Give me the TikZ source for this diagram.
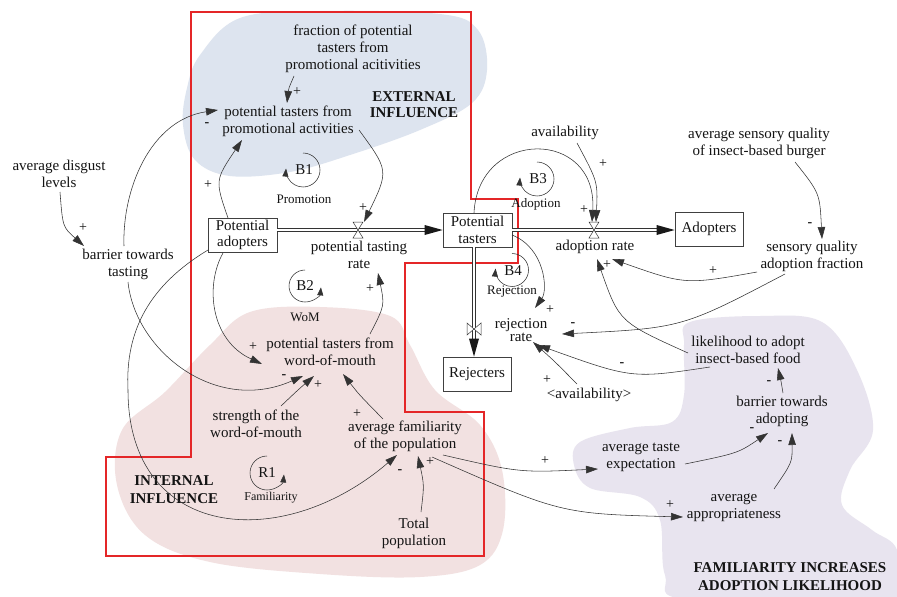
\documentclass[tikz,border=0pt]{standalone}
\usepackage{fontspec}
\setmainfont{Liberation Serif}
\usetikzlibrary{arrows.meta,calc}
\definecolor{blueblob}{RGB}{221,228,239}
\definecolor{pinkblob}{RGB}{242,225,225}
\definecolor{purpleblob}{RGB}{232,228,239}
\definecolor{redline}{RGB}{228,38,40}
\begin{document}
\begin{tikzpicture}[x=1pt,y=-1pt,
 txt/.style={align=center,inner sep=1pt,text=black!92,font=\fontsize{15}{17}\selectfont},
 stockbox/.style={draw=black!75,line width=0.7pt,align=center,inner sep=0pt,minimum width=69pt,minimum height=34pt,text=black!92,font=\fontsize{15}{16.5}\selectfont},
 bld/.style={align=center,inner sep=0pt,text=black!92,font=\bfseries\fontsize{15}{17}\selectfont},
 lnk/.style={draw=black!80,line width=0.55pt,-{Triangle[length=12pt,width=7.5pt]}},
 sgnpos/.style={inner sep=0pt,text=black!92,font=\fontsize{14}{14}\selectfont},
 sgnneg/.style={inner sep=0pt,text=black!92,font=\bfseries\fontsize{14}{14}\selectfont},
 loopl/.style={inner sep=0pt,text=black!92,font=\fontsize{13}{13}\selectfont},
 loopb/.style={inner sep=0pt,text=black!92,font=\fontsize{15}{15}\selectfont},
 loopa/.style={draw=black!80,line width=0.55pt,-{Triangle[length=8pt,width=6pt]}},
 flowpipe/.style={draw=black!80,line width=0.6pt,double=white,double distance=2.6pt},
 valveshape/.style={draw=black!80,line width=0.5pt,fill=white},
 flowhead/.style={fill=black!90}
]
\useasboundingbox (0,0) rectangle (897,597);
\fill[white] (0,0) rectangle (897,597);

% background regions
\fill[blueblob] plot[smooth cycle,tension=0.6] coordinates {(200,55) (240,18) (320,11) (440,14) (478,30) (487,70) (472,103) (420,130) (350,155) (290,172) (230,176) (195,160) (183,125) (187,88)};
\fill[pinkblob] plot[smooth cycle,tension=0.6] coordinates {(250,312) (320,307) (390,316) (410,345) (435,390) (480,425) (502,470) (503,530) (480,565) (420,577) (320,574) (210,562) (145,535) (117,485) (122,430) (165,392) (210,345)};
\fill[purpleblob] plot[smooth cycle,tension=0.6] coordinates {(690,322) (760,316) (822,322) (857,370) (873,430) (850,470) (842,505) (872,530) (897,550) (897,600) (690,600) (665,575) (660,520) (640,497) (590,488) (574,465) (580,442) (630,428) (672,422) (684,395) (684,345)};

% red boundary
\draw[redline,line width=1.3pt] (191,12) -- (471,12) -- (471,199) -- (518,199) -- (518,263) -- (405,263) -- (405,412) -- (484,412) -- (484,556) -- (106,556) -- (106,457) -- (191,457) -- cycle;

% stocks
\node[stockbox] (PA) at (242.5,235) {Potential\\adopters};
\node[stockbox] (PT) at (477.5,230) {Potential\\tasters};
\node[stockbox,minimum width=68pt] (AD) at (709,229) {Adopters};
\node[stockbox,minimum width=68pt] (RJ) at (477,374) {Rejecters};

\coordinate (v1) at (358,230);
\coordinate (v2) at (594,230);
\coordinate (v3) at (474,329);

% flows
\draw[flowpipe] (PA.east |- v1) -- ($(PT.west |- v1)+(-16,0)$);
\fill[flowhead] (PT.west |- v1) -- ++(-18,-5) -- ++(0,10) -- cycle;
\draw[flowpipe] (PT.east |- v2) -- ($(AD.west |- v2)+(-16,0)$);
\fill[flowhead] (AD.west |- v2) -- ++(-18,-5) -- ++(0,10) -- cycle;
\draw[flowpipe] (PT.south -| v3) -- ($(RJ.north -| v3)+(0,-16)$);
\fill[flowhead] (RJ.north -| v3) -- ++(-5,-18) -- ++(10,0) -- cycle;

\draw[valveshape] ($(v1)+(-5,-8)$) -- ($(v1)+(5,-8)$) -- ($(v1)+(-5,8)$) -- ($(v1)+(5,8)$) -- cycle;
\draw[valveshape] ($(v2)+(-5,-8)$) -- ($(v2)+(5,-8)$) -- ($(v2)+(-5,8)$) -- ($(v2)+(5,8)$) -- cycle;
\draw[valveshape] ($(v3)+(-7,-6)$) -- ($(v3)+(7,6)$) -- ($(v3)+(7,-6)$) -- ($(v3)+(-7,6)$) -- cycle;

% variables
\node[txt] (frac) at (353,49) {fraction of potential\\tasters from\\promotional acitivities};
\node[txt] (promo) at (288,121) {potential tasters from\\promotional activities};
\node[bld,font=\bfseries\fontsize{15}{16}\selectfont] (ext) at (414,105) {EXTERNAL\\INFLUENCE};
\node[txt] (ptr) at (359,255) {potential tasting\\rate};
\node[txt] (adr) at (595,247) {adoption rate};
\node[txt,font=\fontsize{15}{13.5}\selectfont] (rejr) at (521,330) {rejection\\rate};
\node[txt] (avail) at (565,133) {availability};
\node[txt] (avgsens) at (759,143) {average sensory quality\\of insect-based burger};
\node[txt] (sensfrac) at (812,256) {sensory quality\\adoption fraction};
\node[txt] (disgust) at (59,174) {average disgust\\levels};
\node[txt] (bartaste) at (128,264) {barrier towards\\tasting};
\node[txt] (wom) at (330,352) {potential tasters from\\word-of-mouth};
\node[txt] (strength) at (256,424) {strength of the\\word-of-mouth};
\node[txt] (avgfam) at (405,436) {average familiarity\\of the population};
\node[txt] (totpop) at (414,533) {Total\\population};
\node[bld,font=\bfseries\fontsize{15}{18}\selectfont] (intinf) at (174,490) {INTERNAL\\INFLUENCE};
\node[txt] (likeli) at (748,350) {likelihood to adopt\\insect-based food};
\node[txt] (baradopt) at (782,411) {barrier towards\\adopting};
\node[txt] (taste) at (641,457) {average taste\\expectation};
\node[txt] (approp) at (734,508) {average\\appropriateness};
\node[txt] (availsh) at (589,395) {\textless availability\textgreater};
\node[bld,font=\bfseries\fontsize{15}{18}\selectfont] (famadopt) at (790,577) {FAMILIARITY INCREASES\\ADOPTION LIKELIHOOD};

% loops
\draw[loopa] (303,153) arc[start angle=-90,end angle=185,radius=17];
\node[loopb] (b1) at (304,170) {B1};
\node[loopl] (b1l) at (304,199) {Promotion};
\draw[loopa] (305,270) arc[start angle=-90,end angle=-355,radius=16];
\node[loopb] (b2) at (305,286) {B2};
\node[loopl] (b2l) at (305,317) {WoM};
\draw[loopa] (267,456) arc[start angle=-90,end angle=-355,radius=17];
\node[loopb] (r1) at (267,473) {R1};
\node[loopl,font=\fontsize{12}{12}\selectfont] (r1l) at (271,498) {Familiarity};
\draw[loopa] (537,162) arc[start angle=-90,end angle=185,radius=17];
\node[loopb] (b3) at (538,179) {B3};
\node[loopl] (b3l) at (536,204) {Adoption};
\draw[loopa] (512,253.5) arc[start angle=-90,end angle=185,radius=16.5];
\node[loopb] (b4) at (513,271) {B4};
\node[loopl] (b4l) at (512,292) {Rejection};

% connectors
\draw[lnk] ($(frac)+(-59,27)$) .. controls (288.5,88.8) .. ($(promo)+(-1,-18)$);
\draw[lnk] ($(promo)+(71,9)$) .. controls (388.8,170.7) .. ($(v1)+(6,-8)$);
\draw[lnk] ($(PA)+(-14.5,-17)$) .. controls (215,180.3) .. ($(promo)+(-46,19)$);
\draw[lnk] ($(bartaste)+(-4,-18)$) .. controls (122,190) and (150,120) .. ($(promo)+(-70,-11)$);
\draw[lnk] ($(bartaste)+(0,18)$) .. controls (135,350) and (215,415) .. ($(wom)+(-27,24)$);
\draw[lnk] ($(PA)+(-34.5,15)$) .. controls (150,285) and (125,330) .. (128,390) .. controls (128,540) and (282,554) .. ($(avgfam)+(-8,19)$);
\draw[lnk] ($(PA)+(-19.5,18)$) .. controls (205,285) and (210,340) .. ($(wom)+(-68,12)$);
\draw[lnk] ($(wom)+(40,-18)$) .. controls (384.7,305.5) .. ($(ptr)+(19,18)$);
\draw[lnk] ($(strength)+(25,-18)$) .. controls (298.2,389.7) .. ($(wom)+(-16,24)$);
\draw[lnk] ($(avgfam)+(-22,-17)$) .. controls (359,394.5) .. ($(wom)+(13,22)$);
\draw[lnk] ($(totpop)+(7,-21)$) .. controls (424.2,485.3) .. ($(avgfam)+(13,20)$);
\draw[lnk] ($(avgfam)+(38,19)$) .. controls (519.8,472.7) .. ($(taste)+(-43,12)$);
\draw[lnk] ($(avgfam)+(27,21)$) .. controls (560.8,513.7) .. ($(approp)+(-51,9)$);
\draw[lnk] ($(taste)+(44,7)$) .. controls (737.8,453.2) .. ($(baradopt)+(-14,22)$);
\draw[lnk] ($(approp)+(40,-19)$) .. controls (792.3,462.3) .. ($(baradopt)+(10,22)$);
\draw[lnk] ($(baradopt)+(1,-18)$) .. controls (781,381) .. ($(likeli)+(30,18)$);
\draw[lnk] ($(likeli)+(-60,3)$) .. controls (619.2,322) .. ($(adr)+(2,12)$);
\draw[lnk] ($(likeli)+(-38,17)$) .. controls (632,378.7) .. ($(rejr)+(17,15)$);
\draw[lnk] ($(sensfrac)+(-55,16)$) .. controls (685.2,284.8) .. ($(adr)+(17,12)$);
\draw[lnk] ($(sensfrac)+(-27,18)$) .. controls (682,328) .. ($(rejr)+(41,4)$);
\draw[lnk] ($(avgsens)+(36,19)$) .. controls (819.8,193.2) .. ($(sensfrac)+(10,-17)$);
\draw[lnk] ($(avail)+(12,10)$) .. controls (597.8,181.8) .. ($(v2)+(2,-8)$);
\draw[lnk] ($(PT)+(-3.5,-17)$) .. controls (478,128) and (598,128) .. ($(v2)+(-2,-8)$);
\draw[lnk] ($(PT)+(34.5,5)$) .. controls (545,248) and (548,290) .. ($(rejr)+(14,-22)$);
\draw[lnk] ($(availsh)+(-12,-11)$) .. controls (555,361.7) .. ($(rejr)+(12,12)$);
\draw[lnk] ($(disgust)+(1,18)$) .. controls (62.7,227) .. ($(bartaste)+(-44,-18)$);

% polarity signs
\node[sgnpos] (s1) at (297,92) {+};
\node[sgnpos] (s2) at (363,208) {+};
\node[sgnpos] (s3) at (208,185) {+};
\node[sgnneg] (s4) at (207,125) {-};
\node[sgnneg] (s5) at (284,377) {-};
\node[sgnneg] (s6) at (400,472) {-};
\node[sgnpos] (s7) at (253,347) {+};
\node[sgnpos] (s8) at (370,289) {+};
\node[sgnpos] (s9) at (318,385) {+};
\node[sgnpos] (s10) at (357,414) {+};
\node[sgnpos] (s11) at (430,462) {+};
\node[sgnpos] (s12) at (545,461) {+};
\node[sgnpos] (s13) at (670,505) {+};
\node[sgnneg] (s14) at (752,430) {-};
\node[sgnneg] (s15) at (780,443) {-};
\node[sgnneg] (s16) at (769,383) {-};
\node[sgnpos] (s17) at (607,265) {+};
\node[sgnneg] (s18) at (622,365) {-};
\node[sgnpos] (s19) at (713,271) {+};
\node[sgnneg] (s20) at (573,325) {-};
\node[sgnneg] (s21) at (810,225) {-};
\node[sgnpos] (s22) at (603,164) {+};
\node[sgnpos] (s23) at (584,210) {+};
\node[sgnpos] (s24) at (550,310) {+};
\node[sgnpos] (s25) at (547,380) {+};
\node[sgnpos] (s26) at (83,228) {+};
\end{tikzpicture}
\end{document}
